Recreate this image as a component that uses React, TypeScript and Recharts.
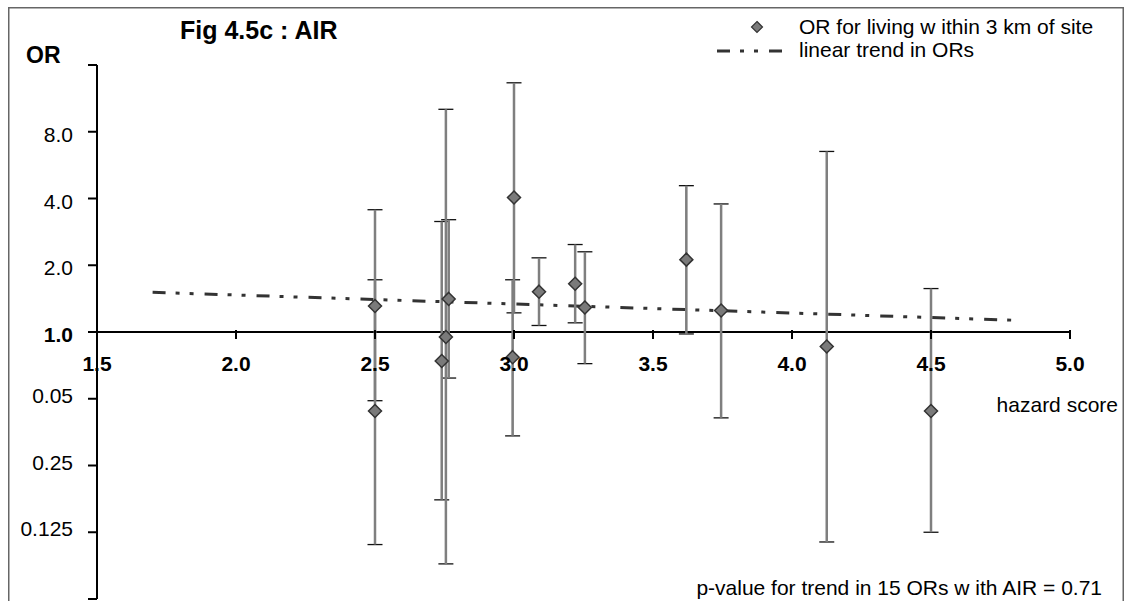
import { ComposedChart, Scatter, Line, XAxis, YAxis, ErrorBar, ReferenceLine } from "recharts"

// hazard score of each area, odds ratio and its 95% CI
const hazard = [2.5, 2.5, 2.74, 2.755, 2.765, 2.995, 3.0, 3.09, 3.22, 3.255, 3.62, 3.745, 4.125, 4.5]
const oddsRatio = [1.31, 0.44, 0.74, 0.95, 1.41, 0.77, 4.04, 1.52, 1.65, 1.29, 2.12, 1.25, 0.86, 0.44]
const ciLow = [0.49, 0.11, 0.175, 0.09, 0.62, 0.34, 1.22, 1.07, 1.1, 0.72, 0.98, 0.41, 0.113, 0.125]
const ciHigh = [3.56, 1.72, 3.15, 10.1, 3.21, 1.72, 13.3, 2.16, 2.48, 2.3, 4.57, 3.78, 6.52, 1.57]

// fitted trend (end points)
const trendX = [1.7, 4.8]
const trendOR = [1.51, 1.13]

const xTicks = [1.5, 2.0, 2.5, 3.0, 3.5, 4.0, 4.5, 5.0]
const yTicks = [0.0625, 0.125, 0.25, 0.5, 1, 2, 4, 8, 16]
const yTickLabels: Record<string, string> = {
  "0.125": "0.125",
  "0.25": "0.25",
  "0.5": "0.05",
  "1": "1.0",
  "2": "2.0",
  "4": "4.0",
  "8": "8.0",
}

const points = hazard.map((x, i) => ({
  x,
  or: oddsRatio[i],
  err: [oddsRatio[i] - ciLow[i], ciHigh[i] - oddsRatio[i]],
}))
const trend = trendX.map((x, i) => ({ x, or: trendOR[i] }))

const FONT = "'Liberation Sans', Arial, sans-serif"
const BOX_W = 1116
const BOX_H = 594
const W = 1114
const H = 600
const M = { top: 57, right: 53, bottom: 8, left: 0 }
const X_AXIS_H = 1
const PLOT_H = H - M.top - M.bottom - X_AXIS_H

const Diamond = (props: any) => {
  const { cx, cy } = props
  if (cx == null || cy == null) return null
  const r = 6.5
  return (
    <polygon
      points={`${cx},${cy - r} ${cx + r},${cy} ${cx},${cy + r} ${cx - r},${cy}`}
      fill="#7a7a7a"
      stroke="#333"
      strokeWidth={1.5}
    />
  )
}

// x axis sits at OR = 1, i.e. the middle of the symmetric log domain
const XTick = (props: any) => {
  const { x, y, payload } = props
  const ay = y - PLOT_H / 2
  return (
    <g>
      <line x1={x} x2={x} y1={ay - 2} y2={ay + 7} stroke="#000" strokeWidth={2} />
      <text x={x} y={ay + 39} textAnchor="middle" fontFamily={FONT} fontSize={21} fontWeight="bold" fill="#000">
        {Number(payload.value).toFixed(1)}
      </text>
    </g>
  )
}

const YTick = (props: any) => {
  const { x, y, payload } = props
  const label = yTickLabels[String(payload.value)] ?? ""
  // labels sit a little lower above the x axis than below it, as in the original
  const dy = payload.value >= 1 ? 10 : 4
  return (
    <text
      x={x}
      y={y + dy}
      textAnchor="end"
      fontFamily={FONT}
      fontSize={21}
      fontWeight={payload.value === 1 ? "bold" : "normal"}
      fill="#000"
    >
      {label}
    </text>
  )
}

export default function App() {
  return (
    <div
      style={{
        position: "absolute",
        left: 8,
        top: 7,
        width: BOX_W,
        height: BOX_H,
        overflow: "hidden",
        background: "#fff",
        fontFamily: FONT,
      }}
    >
      <div style={{ position: "absolute", left: 1, top: 1 }}>
        <ComposedChart width={W} height={H} margin={M}>
          <XAxis
            dataKey="x"
            type="number"
            domain={[1.5, 5]}
            ticks={xTicks}
            allowDataOverflow
            height={X_AXIS_H}
            axisLine={false}
            tickLine={false}
            tickSize={0}
            tickMargin={0}
            tick={<XTick />}
            interval={0}
          />
          <YAxis
            dataKey="or"
            type="number"
            scale="log"
            domain={[0.0625, 16]}
            ticks={yTicks}
            allowDataOverflow
            width={88}
            axisLine={{ stroke: "#000", strokeWidth: 2 }}
            tickLine={{ stroke: "#000", strokeWidth: 2 }}
            tickSize={9}
            tickMargin={15}
            tick={<YTick />}
            interval={0}
          />
          <ReferenceLine y={1} stroke="#000" strokeWidth={2} />
          <Line
            data={trend}
            dataKey="or"
            type="linear"
            stroke="#333"
            strokeWidth={3}
            strokeDasharray="13 10 4 10 4 11"
            dot={false}
            activeDot={false}
            isAnimationActive={false}
          />
          <Scatter data={points} dataKey="or" shape={<Diamond />} isAnimationActive={false}>
            <ErrorBar dataKey="err" direction="y" width={7.5} stroke="#111" strokeWidth={1.3} />
            <ErrorBar dataKey="err" direction="y" width={0.01} stroke="#7f7f7f" strokeWidth={2.5} />
          </Scatter>
        </ComposedChart>
      </div>

      <svg
        width={BOX_W}
        height={BOX_H}
        style={{ position: "absolute", left: 0, top: 0, pointerEvents: "none" }}
        fontFamily={FONT}
      >
        {/* chart frame, open at the bottom */}
        <path d={`M0.75,${BOX_H} V0.75 H${BOX_W - 0.75} V${BOX_H}`} fill="none" stroke="#666" strokeWidth={1.5} />

        <g transform="translate(1,1)">
          <text x={171} y={31} fontSize={25} fontWeight="bold">Fig 4.5c : AIR</text>
          <text x={17} y={55} fontSize={23} fontWeight="bold">OR</text>

          <polygon points="748,13.5 753.5,19 748,24.5 742.5,19" fill="#7a7a7a" stroke="#333" strokeWidth={1.2} />
          <text x={790} y={26} fontSize={21}>OR for living w ithin 3 km of site</text>
          <line x1={708} x2={783} y1={43} y2={43} stroke="#333" strokeWidth={3} strokeDasharray="13 10 4 10 4 11" />
          <text x={790} y={49} fontSize={21}>linear trend in ORs</text>

          <text x={1109} y={404} fontSize={21} textAnchor="end">hazard score</text>
          <text x={1093} y={587} fontSize={21} textAnchor="end">p-value for trend in 15 ORs w ith AIR = 0.71</text>
        </g>
      </svg>
    </div>
  )
}
